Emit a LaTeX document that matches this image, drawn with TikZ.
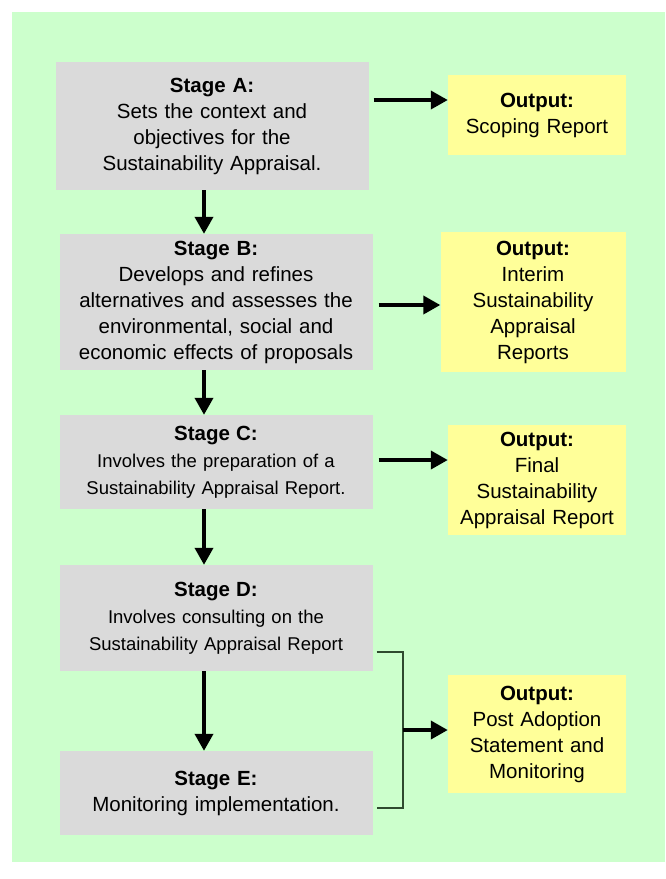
\documentclass[tikz,border=0pt]{standalone}
\usepackage{fontspec}
\setmainfont{Liberation Sans}
\usetikzlibrary{arrows.meta,calc}
\definecolor{bggreen}{HTML}{CCFFCC}
\definecolor{stagegrey}{HTML}{DADADA}
\definecolor{outyellow}{HTML}{FFFF99}
\definecolor{bracketgreen}{HTML}{2E4A2E}
\tikzset{
	stage/.style={fill=stagegrey, align=center, minimum width=313pt, text width=310pt, inner sep=0pt, font=\fontsize{20.5}{26}\selectfont},
	small/.style={font=\fontsize{18.5}{27}\selectfont},
	output/.style={fill=outyellow, align=center, minimum width=178pt, text width=176pt, inner sep=0pt, font=\fontsize{20.5}{26}\selectfont},
	flow/.style={line width=3.8pt, -{Triangle[length=17pt,width=18pt]}},
}
\begin{document}
\begin{tikzpicture}[x=1pt,y=-1pt]
				\useasboundingbox (0,0) rectangle (665,879);
				\fill[bggreen] (12,12) rectangle (665,862);
				% stages
				\node[stage, minimum height=128pt] (A) at (212,126) {\textbf{Stage A:}\\Sets the context and\\objectives for the\\Sustainability Appraisal.};
				\node[stage, minimum height=136pt] (B) at (216,302) {\textbf{Stage B:}\\Develops and refines\\alternatives and assesses the\\environmental, social and\\economic effects of proposals};
				\node[stage, small, minimum height=94pt] (C) at (216,462) {{\fontsize{20.5}{26}\selectfont\textbf{Stage C:}}\\Involves the preparation of a\\Sustainability Appraisal Report.};
				\node[stage, small, minimum height=106pt] (D) at (216,618) {{\fontsize{20.5}{26}\selectfont\textbf{Stage D:}}\\Involves consulting on the\\Sustainability Appraisal Report};
				\node[stage, minimum height=84pt] (E) at (216,793) {\textbf{Stage E:}\\Monitoring implementation.};
				% outputs
				\node[output, minimum height=80pt] (A1) at (537,115) {\textbf{Output:}\\Scoping Report};
				\node[output, minimum height=140pt, minimum width=185pt] (B1) at (533,302) {\textbf{Output:}\\Interim\\Sustainability\\Appraisal\\Reports};
				\node[output, minimum height=110pt] (C1) at (537,480) {\textbf{Output:}\\Final\\Sustainability\\Appraisal Report};
				\node[output, minimum height=118pt] (D1) at (537,734) {\textbf{Output:}\\Post Adoption\\Statement and\\Monitoring};
				% stage to stage
				\draw[flow] ([xshift=-8pt]A.south) to ([xshift=-12pt]B.north);
				\draw[flow] ([xshift=-12pt]B.south) to ([xshift=-12pt]C.north);
				\draw[flow] ([xshift=-12pt]C.south) to ([xshift=-12pt]D.north);
				\draw[flow] ([xshift=-12pt]D.south) to ([xshift=-12pt]E.north);
				% stage to output
				\draw[flow, shorten <=5pt] ([yshift=26pt]A.east) to ([yshift=26pt]A.east -| A1.west);
				\draw[flow, shorten <=6pt] ([yshift=-3pt]B.east) to ([yshift=-3pt]B.east -| B1.west);
				\draw[flow, shorten <=6pt] ([yshift=2pt]C.east) to ([yshift=2pt]C.east -| C1.west);
				% bracket for D and E
				\coordinate (D2) at ([xshift=4pt,yshift=-34pt]D.east);
				\coordinate (E2) at ([xshift=4pt,yshift=-15pt]E.east);
				\draw[line width=1.6pt, draw=bracketgreen] (D2) -- ++(26,0) |- (E2);
				\coordinate (M) at ([xshift=26pt]$(D2)!0.5!(E2)$);
				\draw[flow] (M) to (M -| D1.west);
			\end{tikzpicture}
\end{document}
